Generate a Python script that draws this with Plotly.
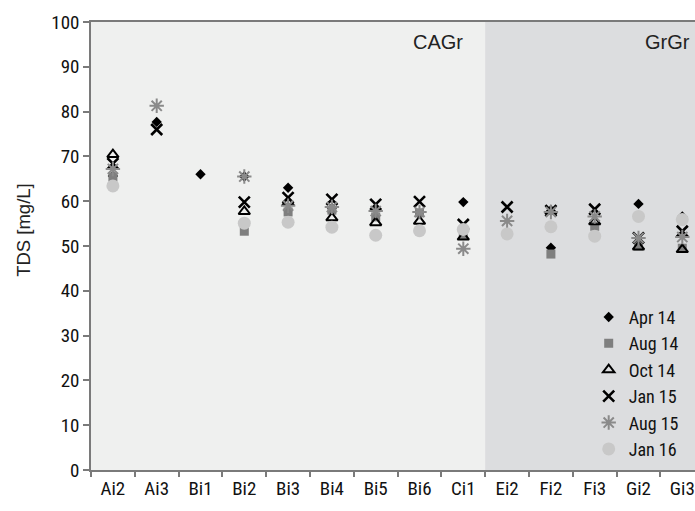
import plotly.graph_objects as go

categories = ["Ai2", "Ai3", "Bi1", "Bi2", "Bi3", "Bi4", "Bi5", "Bi6", "Ci1",
              "Ei2", "Fi2", "Fi3", "Gi2", "Gi3"]

apr14 = [65.6, 77.7, 66.0, 65.5, 63.0, 58.5, 58.3, None, 59.8, None, 49.6, None, 59.4, 56.6]
aug14 = [65.4, None, None, 53.3, 57.6, 58.0, 56.5, 57.4, 52.4, None, 48.2, 54.4, 50.0, 49.5]
oct14 = [70.4, None, None, 57.7, 59.7, 56.3, 55.2, 55.5, 52.0, None, 57.8, 55.4, 49.8, 49.2]
jan15 = [68.4, 76.0, None, 59.8, 60.8, 60.4, 59.3, 59.9, 54.8, 58.7, 57.9, 58.2, 51.8, 53.3]
aug15 = [67.2, 81.3, None, 65.5, 59.0, 58.7, 57.8, 57.6, 49.4, 55.6, 57.6, 56.6, 51.8, 52.0]
jan16 = [63.4, None, None, 55.1, 55.3, 54.2, 52.4, 53.4, 53.7, 52.7, 54.3, 52.2, 56.6, 55.9]

series = [
    ("Apr 14", apr14, dict(symbol="diamond", size=8, color="#000000")),
    ("Aug 14", aug14, dict(symbol="square", size=9, color="#7f7f7f")),
    ("Oct 14", oct14, dict(symbol="triangle-up-open", size=10, color="#000000",
                           line=dict(width=2, color="#000000"))),
    ("Jan 15", jan15, dict(symbol="x-thin-open", size=11, color="#000000",
                           line=dict(width=2.6, color="#000000"))),
    ("Aug 15", aug15, dict(symbol="asterisk-open", size=12, color="#8a8a8a",
                           line=dict(width=2, color="#8a8a8a"))),
    ("Jan 16", jan16, dict(symbol="circle", size=13, color="#c8c8c8")),
]

LABEL_FONT = "Liberation Sans Narrow, Roboto Condensed, Liberation Sans, sans-serif"
PLAIN_FONT = "Liberation Sans, Arial, sans-serif"

fig = go.Figure()
for name, vals, marker in series:
    fig.add_trace(go.Scatter(x=categories, y=vals, mode="markers", name=name,
                             marker=marker, cliponaxis=False))

fig.add_shape(type="rect", xref="x", yref="y", x0=8.5, x1=13.6, y0=0, y1=100,
              fillcolor="#dcdddf", line=dict(width=0), layer="below")

fig.add_annotation(text="CAGr", xref="paper", yref="paper", x=0.619, y=0.955,
                   xanchor="right", yanchor="middle", showarrow=False,
                   font=dict(family=PLAIN_FONT, size=20, color="#222222"))
fig.add_annotation(text="GrGr", xref="paper", yref="paper", x=0.995, y=0.955,
                   xanchor="right", yanchor="middle", showarrow=False,
                   font=dict(family=PLAIN_FONT, size=20, color="#222222"))
fig.add_annotation(text="TDS [mg/L]", xref="paper", yref="paper", x=-0.111, y=0.536,
                   xanchor="center", yanchor="middle", textangle=-90, showarrow=False,
                   font=dict(family=PLAIN_FONT, size=18.5, color="#222222"))

fig.update_layout(
    width=695, height=511,
    margin=dict(l=91, r=0, t=22, b=41),
    paper_bgcolor="white",
    plot_bgcolor="#eff0ef",
    showlegend=True,
    legend=dict(x=0.824, y=0.005, xanchor="left", yanchor="bottom",
                bgcolor="rgba(0,0,0,0)", borderwidth=0,
                font=dict(family=LABEL_FONT, size=18, color="#111111"),
                itemwidth=30, tracegroupgap=0),
    xaxis=dict(type="category", range=[-0.5, 13.29], showgrid=False,
               showline=True, linecolor="#7a7a7a", linewidth=1.5, mirror=True,
               ticks="outside", ticklen=5, tickcolor="#7a7a7a", tickwidth=1.5,
               tickson="boundaries", automargin=False,
               tickfont=dict(family=LABEL_FONT, size=19, color="#111111")),
    yaxis=dict(range=[0, 100], dtick=10, showgrid=False, zeroline=False,
               showline=True, linecolor="#7a7a7a", linewidth=1.5, automargin=False,
               ticks="outside", ticklen=6, tickcolor="#7a7a7a", tickwidth=1.5,
               tickfont=dict(family=LABEL_FONT, size=19, color="#111111")),
)

fig.write_html("out.html",
               config={"displayModeBar": False},
               post_script="document.body.style.margin='0';"
                           "document.body.style.overflow='hidden';")
